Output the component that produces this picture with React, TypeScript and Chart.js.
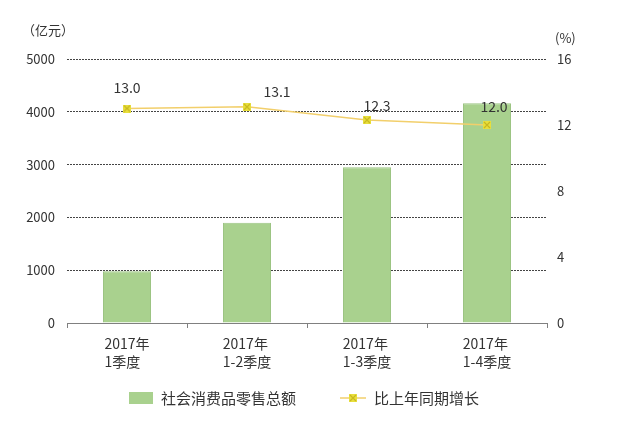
import React, { useEffect, useRef } from "react";
import { Chart, registerables } from "chart.js";
Chart.register(...registerables);

const categories: string[][] = [
  ["2017年", "1季度"],
  ["2017年", "1-2季度"],
  ["2017年", "1-3季度"],
  ["2017年", "1-4季度"],
];
const retailSales = [980, 1900, 2950, 4160];
const growthRate = [13.0, 13.1, 12.3, 12.0];
const seriesNames = ["社会消费品零售总额", "比上年同期增长"];
const leftUnit = "（亿元）";
const rightUnit = "(%)";

const FONT = "'Noto Sans CJK SC', sans-serif";
const BAR_COLOR = "#A9D18E";
const BAR_BORDER = "#9CC483";
const LINE_COLOR = "#F2CF6B";
const MARK_FILL = "#E8DF3C";
const MARK_STROKE = "#C9B820";
const TEXT = "#333";
const labelDx = [0, 30, 10, 7];
const labelDy = [-21, -15, -14, -18];

function makeMarker(): HTMLCanvasElement {
  const c = document.createElement("canvas");
  c.width = 8;
  c.height = 8;
  const g = c.getContext("2d")!;
  g.fillStyle = MARK_FILL;
  g.fillRect(0, 0, 8, 8);
  g.strokeStyle = MARK_STROKE;
  g.lineWidth = 1.2;
  g.beginPath();
  g.moveTo(1, 1);
  g.lineTo(7, 7);
  g.moveTo(7, 1);
  g.lineTo(1, 7);
  g.stroke();
  return c;
}

let marker: HTMLCanvasElement;

const extrasPlugin = {
  id: "extras",
  afterDatasetsDraw(chart: any) {
    const ctx = chart.ctx;
    ctx.save();
    const meta = chart.getDatasetMeta(1);
    ctx.font = `14px ${FONT}`;
    ctx.fillStyle = TEXT;
    ctx.textAlign = "center";
    ctx.textBaseline = "middle";
    meta.data.forEach((pt: any, i: number) => {
      ctx.fillText(growthRate[i].toFixed(1), pt.x + labelDx[i], pt.y + labelDy[i]);
    });
    ctx.restore();
  },
  afterDraw(chart: any) {
    const ctx = chart.ctx;
    const area = chart.chartArea;
    const xs = chart.scales.x;
    ctx.save();
    ctx.fillStyle = TEXT;
    ctx.font = `13px ${FONT}`;
    ctx.textBaseline = "middle";
    ctx.textAlign = "left";
    ctx.fillText(leftUnit, 22, area.top - 29);
    ctx.fillText(rightUnit, area.right + 8, area.top - 21);
    ctx.font = `14px ${FONT}`;
    categories.forEach((lines, i) => {
      const cx = xs.getPixelForValue(i);
      const w = Math.max(...lines.map((l) => ctx.measureText(l).width));
      lines.forEach((l, j) => {
        ctx.fillText(l, cx - w / 2, area.bottom + 21 + j * 18);
      });
    });
    ctx.font = `15px ${FONT}`;
    const y = 398;
    const w1 = ctx.measureText(seriesNames[0]).width;
    const w2 = ctx.measureText(seriesNames[1]).width;
    const total = 24 + 8 + w1 + 44 + 26 + 8 + w2;
    let x = (chart.width - total) / 2 - 16;
    ctx.fillStyle = BAR_COLOR;
    ctx.fillRect(x, y - 6, 24, 12);
    x += 32;
    ctx.fillStyle = TEXT;
    ctx.fillText(seriesNames[0], x, y);
    x += w1 + 44;
    ctx.strokeStyle = LINE_COLOR;
    ctx.lineWidth = 1.5;
    ctx.beginPath();
    ctx.moveTo(x, y);
    ctx.lineTo(x + 26, y);
    ctx.stroke();
    ctx.drawImage(marker, x + 9, y - 4);
    x += 34;
    ctx.fillStyle = TEXT;
    ctx.fillText(seriesNames[1], x, y);
    ctx.restore();
  },
};

export default function App() {
  const ref = useRef<HTMLCanvasElement>(null);
  useEffect(() => {
    document.body.style.margin = "0";
    marker = makeMarker();
    const chart = new Chart(ref.current!, {
      type: "bar",
      data: {
        labels: categories.map((c) => c.join(" ")),
        datasets: [
          {
            type: "bar",
            label: seriesNames[0],
            data: retailSales,
            backgroundColor: BAR_COLOR,
            borderColor: BAR_BORDER,
            borderWidth: 1,
            barPercentage: 0.4,
            categoryPercentage: 1,
            yAxisID: "y",
            order: 1,
          },
          {
            type: "line",
            label: seriesNames[1],
            data: growthRate,
            borderColor: LINE_COLOR,
            borderWidth: 1.5,
            pointStyle: marker as any,
            pointRadius: 4,
            yAxisID: "y1",
            order: 0,
          } as any,
        ],
      },
      options: {
        animation: false,
        responsive: false,
        layout: { padding: { top: 59, left: 0, right: 0, bottom: 0 } },
        plugins: { legend: { display: false }, tooltip: { enabled: false } },
        scales: {
          x: {
            offset: true,
            grid: {
              display: true,
              offset: true,
              drawOnChartArea: false,
              drawTicks: true,
              tickLength: 5,
              color: "#808080",
            },
            border: { display: true, color: "#808080", width: 1 },
            ticks: { display: false },
            afterFit: (s: any) => {
              s.height = 109;
            },
          },
          y: {
            position: "left",
            min: 0,
            max: 5000,
            ticks: {
              stepSize: 1000,
              padding: 12,
              color: TEXT,
              font: { family: FONT, size: 13 },
              callback: (v: any) => String(v),
            },
            grid: {
              drawTicks: false,
              color: (c: any) => (c.tick && c.tick.value === 0 ? "rgba(0,0,0,0)" : "#444"),
              lineWidth: 1,
            },
            border: { display: false, dash: [2, 1] },
            afterFit: (s: any) => {
              s.width = 67;
            },
          },
          y1: {
            position: "right",
            min: 0,
            max: 16,
            ticks: {
              stepSize: 4,
              padding: 10,
              color: TEXT,
              font: { family: FONT, size: 13 },
              callback: (v: any) => String(v),
            },
            grid: { display: false, drawTicks: false },
            border: { display: false },
            afterFit: (s: any) => {
              s.width = 93;
            },
          },
        },
      },
      plugins: [extrasPlugin],
    } as any);
    return () => chart.destroy();
  }, []);
  return (
    <div style={{ width: 640, height: 432, background: "#fff" }}>
      <canvas ref={ref} width={640} height={432} />
    </div>
  );
}
